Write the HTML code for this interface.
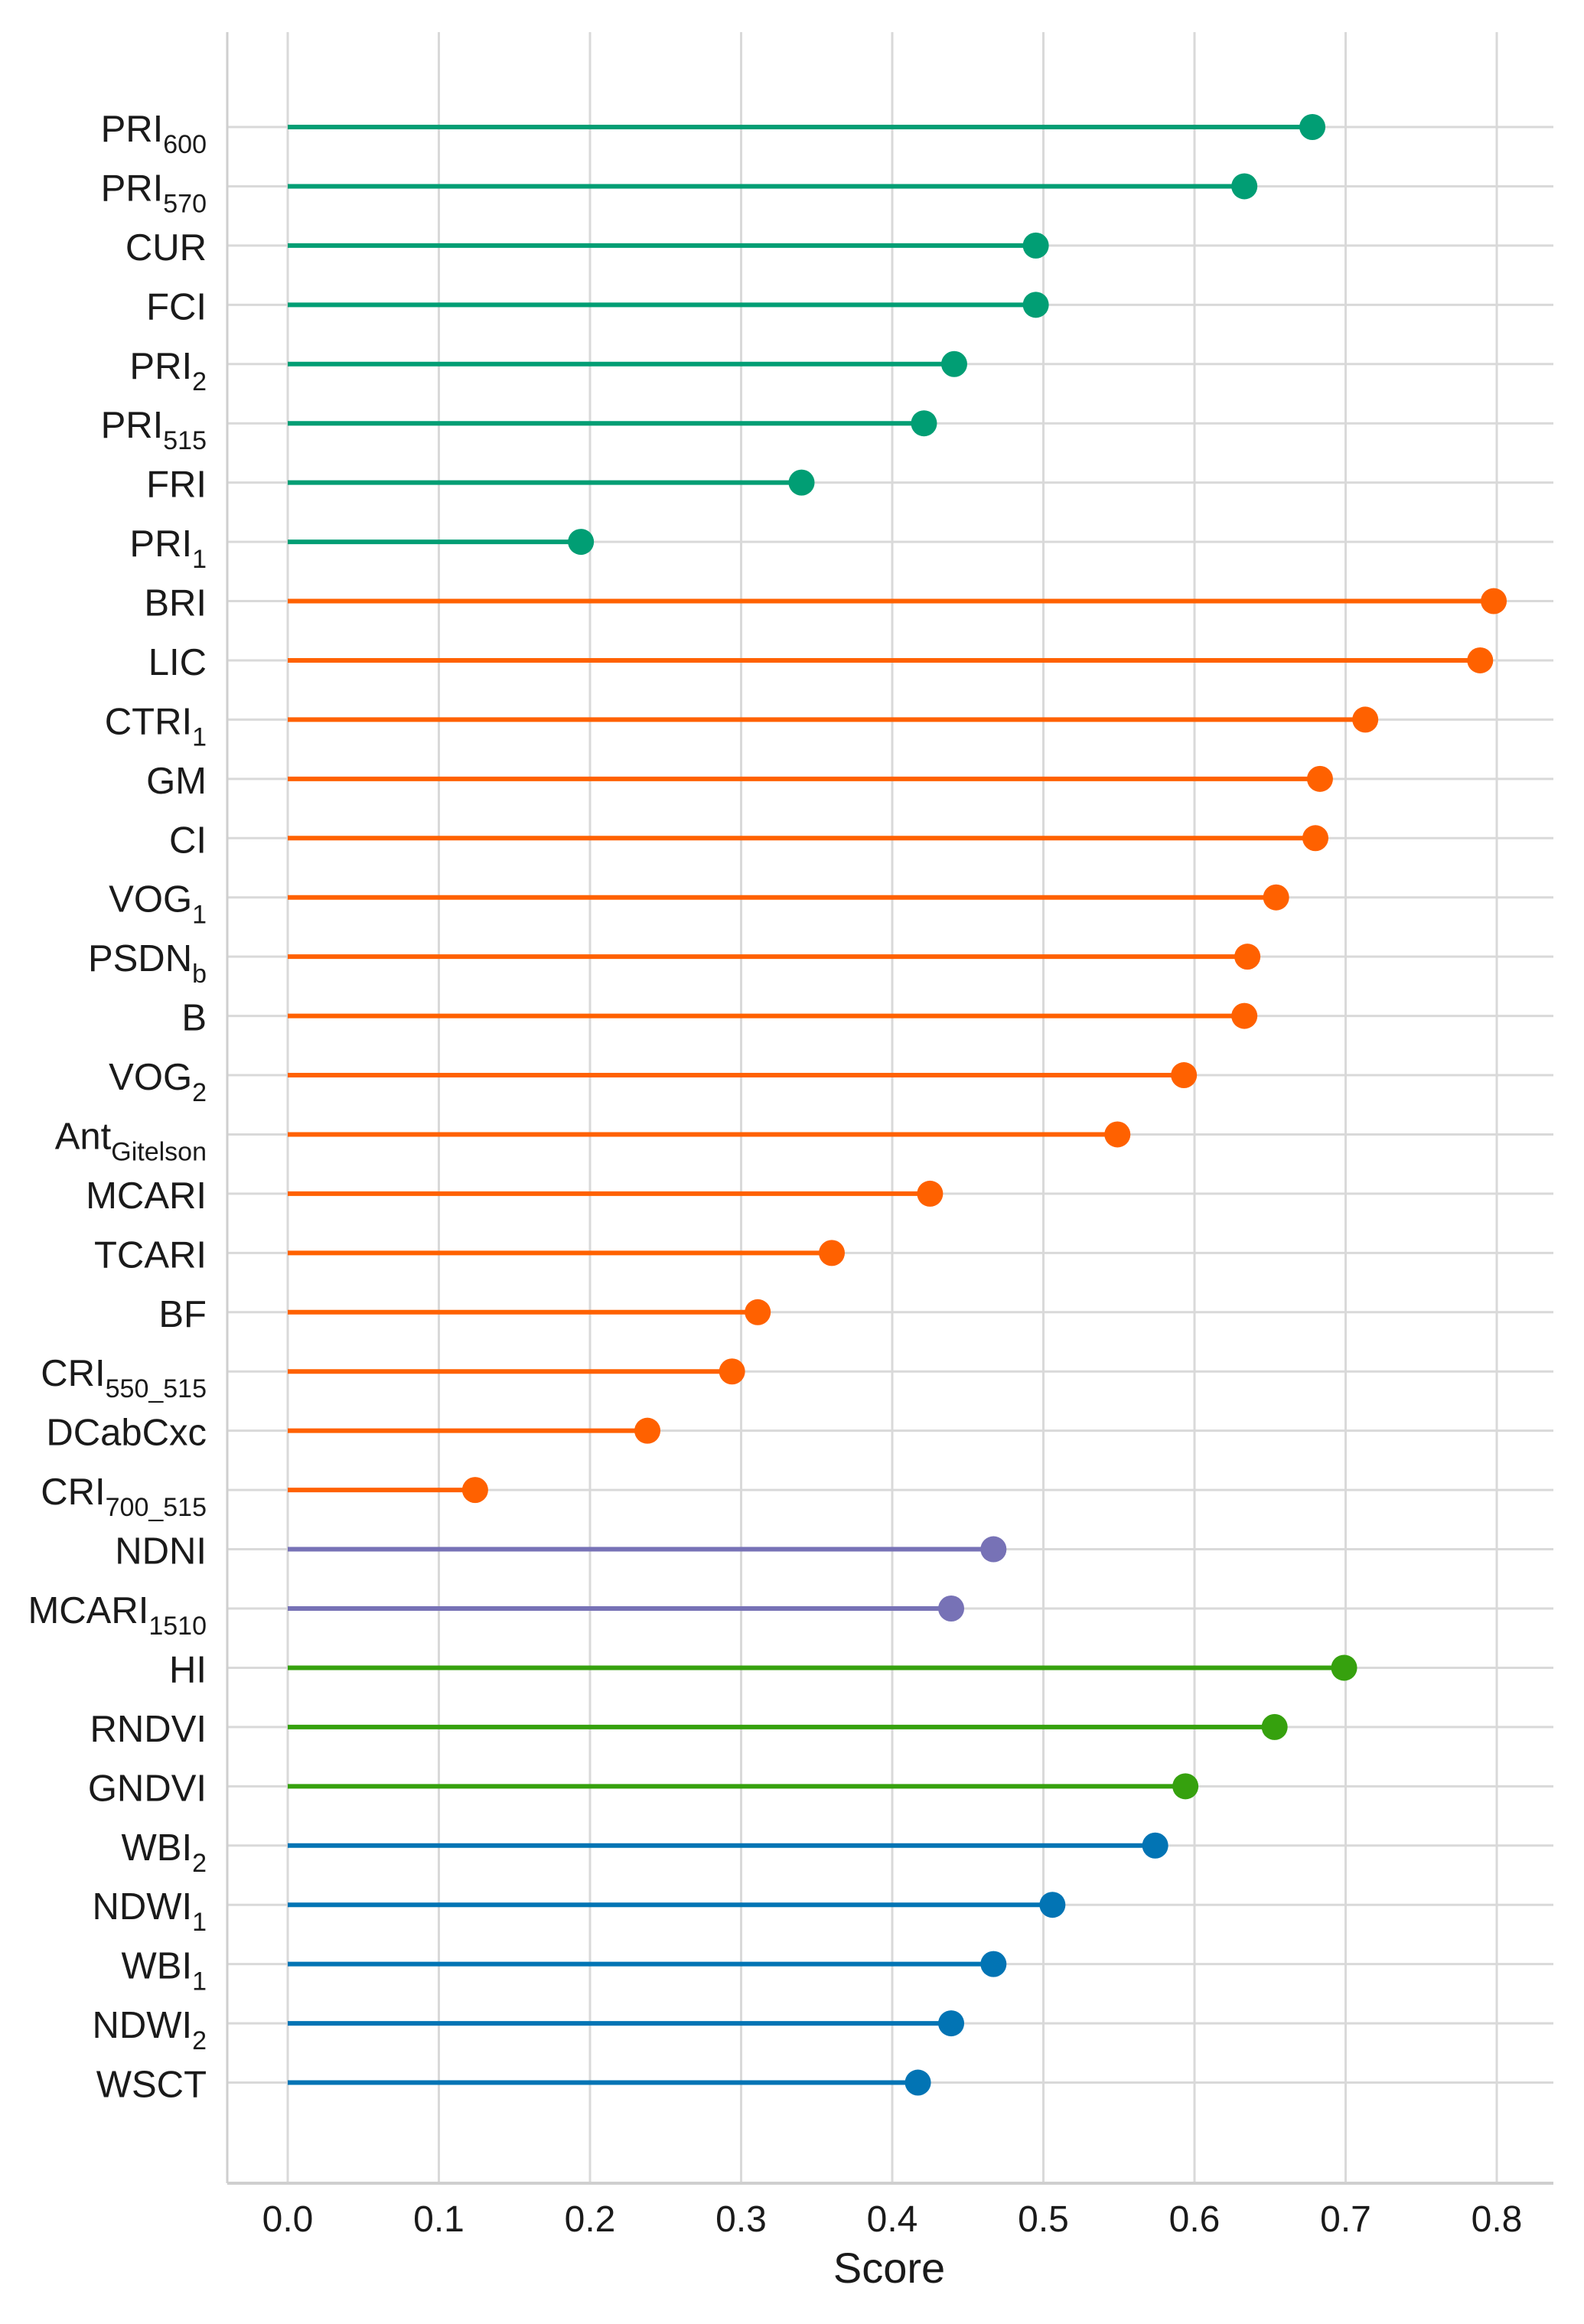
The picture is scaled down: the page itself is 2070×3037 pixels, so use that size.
<!DOCTYPE html>
<html><head><meta charset="utf-8"><style>
html,body{margin:0;padding:0;background:#fff;}
svg{display:block;font-family:"Liberation Sans",Arial,sans-serif;}
</style></head><body>
<svg id="chart" width="2070" height="3037" viewBox="0 0 2070 3037" xmlns="http://www.w3.org/2000/svg">
<g id="grid"></g>
<g id="ylabels"></g>
<g id="marks"></g>
<g id="xticks"></g>
<text x="1162" y="2983" font-size="56" text-anchor="middle" fill="#1a1a1a">Score</text>
</svg>
<script>
const labels = ["PRI|600","PRI|570","CUR","FCI","PRI|2","PRI|515","FRI","PRI|1","BRI","LIC","CTRI|1","GM","CI","VOG|1","PSDN|b","B","VOG|2","Ant|Gitelson","MCARI","TCARI","BF","CRI|550_515","DCabCxc","CRI|700_515","NDNI","MCARI|1510","HI","RNDVI","GNDVI","WBI|2","NDWI|1","WBI|1","NDWI|2","WSCT"];
const scores = [0.678,0.633,0.495,0.495,0.441,0.421,0.340,0.194,0.798,0.789,0.713,0.683,0.680,0.654,0.635,0.633,0.593,0.549,0.425,0.360,0.311,0.294,0.238,0.124,0.467,0.439,0.699,0.653,0.594,0.574,0.506,0.467,0.439,0.417];
const groups = ["a","a","a","a","a","a","a","a","b","b","b","b","b","b","b","b","b","b","b","b","b","b","b","b","c","c","d","d","d","e","e","e","e","e"];
const xTicks = [0,0.1,0.2,0.3,0.4,0.5,0.6,0.7,0.8];
const tickLabels = ["0.0","0.1","0.2","0.3","0.4","0.5","0.6","0.7","0.8"];
const groupColors = {a:"#019e74",b:"#ff6100",c:"#7772b6",d:"#36a10e",e:"#0274b4"};

const NS="http://www.w3.org/2000/svg";
const X0=376, XS=1975, Y0=166, YS=77.44, TOP=42, BOT=2853, LEFT=297, RIGHT=2030;
const xs=v=>X0+v*XS, ys=i=>Y0+i*YS;
function mk(tag,attrs,parent){const e=document.createElementNS(NS,tag);for(const k in attrs)e.setAttribute(k,attrs[k]);parent.appendChild(e);return e;}
const grid=document.getElementById('grid'), yl=document.getElementById('ylabels'), marks=document.getElementById('marks'), xt=document.getElementById('xticks');

xTicks.forEach((t,i)=>{
  const l=mk('line',{x1:xs(t),x2:xs(t),y1:TOP,y2:BOT,stroke:'#d9d9d9','stroke-width':3},grid);
  
  
  const tx=mk('text',{x:xs(t),y:2916,'font-size':48,'text-anchor':'middle',fill:'#1a1a1a'},xt);
  tx.textContent=tickLabels[i];
  
  
});
labels.forEach((lab,i)=>{
  const y=ys(i);
  const g=mk('line',{x1:LEFT,x2:RIGHT,y1:y,y2:y,stroke:'#d9d9d9','stroke-width':3},grid);
  
  
  const parts=lab.split('|');
  const t=mk('text',{x:270,y:y+19,'font-size':49,'text-anchor':'end',fill:'#1a1a1a'},yl);
  
  
  const m=mk('tspan',{},t); m.textContent=parts[0];
  if(parts[1]){const s=mk('tspan',{'font-size':34,dy:15},t); s.textContent=parts[1];}
});
mk('line',{x1:LEFT,x2:LEFT,y1:TOP,y2:BOT,stroke:'#cfcfcf','stroke-width':3},grid);
mk('line',{x1:LEFT,x2:RIGHT,y1:BOT,y2:BOT,stroke:'#cfcfcf','stroke-width':4},grid);
scores.forEach((v,i)=>{
  const c=groupColors[groups[i]], y=ys(i);
  const st=mk('line',{x1:xs(0),x2:xs(v),y1:y,y2:y,stroke:c,'stroke-width':6},marks);
  
  
  const d=mk('circle',{cx:xs(v),cy:y,r:17,fill:c},marks);
  
  
});
</script>
</body></html>
